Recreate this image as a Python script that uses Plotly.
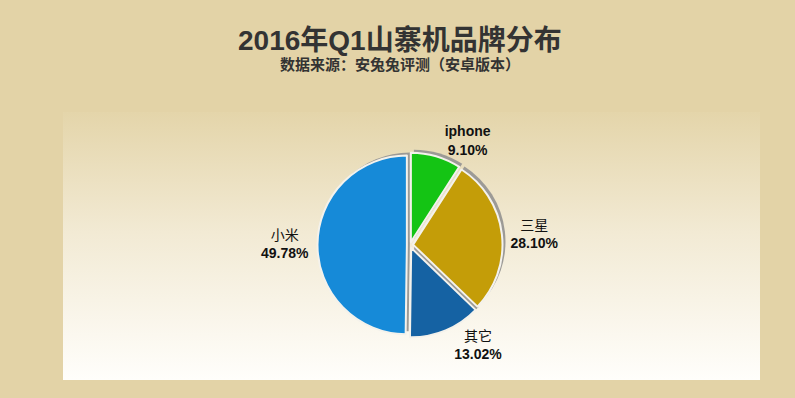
import plotly.graph_objects as go

labels = ["iphone", "三星", "其它", "小米"]
values = [9.10, 28.10, 13.02, 49.78]
colors = ["#14C414", "#C49D08", "#1562A3", "#168AD8"]
title_text = "2016年Q1山寨机品牌分布"
subtitle_text = "数据来源：安兔兔评测（安卓版本）"

W, H = 795, 398
FONT = "Liberation Sans, Arial, Noto Sans CJK SC"

# Latin labels render bold, CJK labels regular (as in the reference)
label_text = ["<b>%s</b>" % l if l.isascii() else l for l in labels]

fig = go.Figure()

# panel with vertical gradient
px0, px1, py0, py1 = 63, 760, 112, 380
fig.add_trace(go.Scatter(
    x=[px0, px1, px1, px0, px0], y=[py0, py0, py1, py1, py0],
    mode="lines", line=dict(width=0), fill="toself",
    fillgradient=dict(type="vertical", start=py0, stop=py1,
                      colorscale=[[0, "#E4D5AA"], [0.45, "#F2EAD4"], [1, "#FFFEFB"]]),
    hoverinfo="skip", showlegend=False))

cx, cy = 410 / W, 1 - 245 / H
half = 92.5 / H
dx, dy = 3 / W, 3 / H

# shadow pie
fig.add_trace(go.Pie(
    labels=labels, values=values, sort=False, direction="clockwise", rotation=0,
    pull=0.035, marker=dict(colors=["#9C9A96"] * 4, line=dict(width=0)),
    textinfo="none", hoverinfo="skip", showlegend=False,
    domain=dict(x=[cx - 0.2 + dx, cx + 0.2 + dx], y=[cy - half + dy, cy + half + dy])))

fig.add_trace(go.Pie(
    labels=labels, values=values, text=label_text, sort=False,
    direction="clockwise", rotation=0,
    pull=0.035, marker=dict(colors=colors, line=dict(color="#F4F2EC", width=2)),
    textposition="outside",
    texttemplate="%{text}<br><b>%{value:.2f}%</b>",
    outsidetextfont=dict(family=FONT, size=14, color="#111111"),
    showlegend=False,
    domain=dict(x=[cx - 0.2, cx + 0.2], y=[cy - half, cy + half])))

fig.update_layout(
    width=W, height=H,
    margin=dict(l=0, r=0, t=0, b=0),
    paper_bgcolor="#E3D3A7", plot_bgcolor="rgba(0,0,0,0)",
    xaxis=dict(range=[0, W], visible=False, domain=[0, 1], fixedrange=True),
    yaxis=dict(range=[H, 0], visible=False, domain=[0, 1], fixedrange=True),
    annotations=[
        dict(text="<b>" + title_text + "</b>", x=0.503, y=1 - 41 / H, xref="paper", yref="paper",
             showarrow=False, font=dict(family=FONT, size=28, color="#333333"),
             xanchor="center", yanchor="middle"),
        dict(text="<b>" + subtitle_text + "</b>", x=0.503, y=1 - 64 / H, xref="paper", yref="paper",
             showarrow=False, font=dict(family=FONT, size=15, color="#333333"),
             xanchor="center", yanchor="middle"),
    ],
)

fig.write_html("out.html")
